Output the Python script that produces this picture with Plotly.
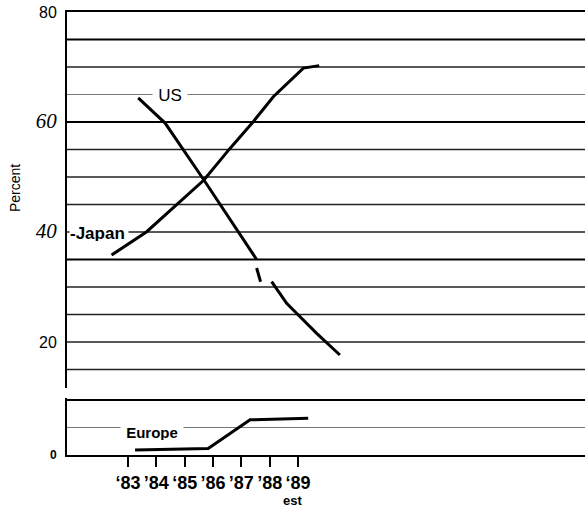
import plotly.graph_objects as go

# ---------------- data ----------------
YEARS = [1983, 1984, 1985, 1986, 1987, 1988, 1989]
YEAR_LABELS = ["<b>‘83</b>", "<b>’84</b>", "<b>‘85</b>", "<b>’86</b>",
               "<b>’87</b>", "<b>’88</b>", "<b>‘89</b>"]
EST_LABEL = "est"

us_year = [1983.36, 1984.31, 1985.68, 1987.54, None, 1987.54, 1987.68, None,
           1988.07, 1988.60, 1988.95, 1989.66, 1990.48]
us_pct = [64.4, 59.8, 49.45, 35.0, None, 33.45, 30.96, None,
          30.96, 27.04, 25.22, 21.58, 17.64]

japan_year = [1982.42, 1983.66, 1985.68, 1986.60, 1987.42, 1988.13, 1989.19, 1989.75]
japan_pct = [35.8, 40.05, 49.45, 55.2, 60.05, 64.6, 69.8, 70.25]

europe_year = [1983.25, 1985.83, 1987.31, 1989.36]
europe_pct = [0.9, 1.2, 6.4, 6.7]

UPPER_GRID = [15, 20, 25, 30, 35, 40, 45, 50, 55, 60, 65, 70, 75]   # 80 is the top frame line
LOWER_GRID = [5, 10]
BOLD_GRID = [75, 60, 35, 10]
LIGHT_GRID = [65, 5]
Y_MAX = 80

UPPER_TICKS = [20, 40, 60, 80]
UPPER_TICKTEXT = [
    "20",
    "<span style='font-family:Liberation Serif;font-style:italic;font-size:21px'>40</span>",
    "<span style='font-family:Liberation Serif;font-style:italic;font-size:21px'>60</span>",
    "80",
]

# ---------------- layout geometry (window pixels) ----------------
W, H = 585, 507
PLOT_L, PLOT_T, PLOT_B = 67, 12, 455
ML, MT, MB, MR = PLOT_L, PLOT_T, H - PLOT_B, 0
PLOT_H = PLOT_B - PLOT_T
PX = 5.5              # pixels per percentage point
UP_BOT_PX = 388       # bottom of upper panel
LOW_TOP_PX = 398      # top of lower panel
X0_PX, XSTEP = 128, 28.33  # pixel of '83 tick, pixels per year

up_top = Y_MAX
up_bot = Y_MAX - (UP_BOT_PX - PLOT_T) / PX
low_top = (PLOT_B - LOW_TOP_PX) / PX
x_lo = 1983 - (X0_PX - PLOT_L) / XSTEP
x_hi = 1983 + (W - X0_PX) / XSTEP

FONT = "Liberation Sans Narrow, Liberation Sans, Arial, sans-serif"
SANS = "Liberation Sans, Arial, sans-serif"

fig = go.Figure()
fig.add_trace(go.Scatter(x=us_year, y=us_pct, mode="lines", connectgaps=False,
                         line=dict(color="black", width=3), xaxis="x", yaxis="y",
                         showlegend=False, hoverinfo="skip"))
fig.add_trace(go.Scatter(x=japan_year, y=japan_pct, mode="lines",
                         line=dict(color="black", width=3), xaxis="x", yaxis="y",
                         showlegend=False, hoverinfo="skip"))
fig.add_trace(go.Scatter(x=europe_year, y=europe_pct, mode="lines",
                         line=dict(color="black", width=3), xaxis="x2", yaxis="y2",
                         showlegend=False, hoverinfo="skip"))

shapes = []
def grid(level, yref):
    if level in BOLD_GRID:
        c, w = "black", 2
    elif level in LIGHT_GRID:
        c, w = "#777777", 1
    else:
        c, w = "#222222", 1.4
    return dict(type="line", xref="x domain", x0=0, x1=1, yref=yref,
                y0=level, y1=level, line=dict(color=c, width=w), layer="below")

for g in UPPER_GRID:
    shapes.append(grid(g, "y"))
for g in LOWER_GRID:
    shapes.append(grid(g, "y2"))

annotations = [
    dict(text="US", x=1984.48, y=65, xref="x", yref="y", showarrow=False,
         font=dict(family=FONT, size=17, color="black"), bgcolor="white",
         width=34, height=14, borderpad=0),
    dict(text="<b>-Japan</b>", x=x_lo + 0.06, y=40, xref="x", yref="y",
         showarrow=False, xanchor="left", yanchor="middle", align="left",
         font=dict(family=FONT, size=17, color="black"), bgcolor="white",
         width=58, height=15, borderpad=0, yshift=-1),
    dict(text="<b>Europe</b>", x=1983.85, y=4.2, xref="x2", yref="y2",
         showarrow=False, font=dict(family=FONT, size=15, color="black"),
         bgcolor="white", width=62, height=16, borderpad=0),
    dict(text="<b>" + EST_LABEL + "</b>", x=YEARS[-1] - 0.18, xref="x2",
         y=0, yref="paper", yshift=-45, yanchor="middle", showarrow=False,
         font=dict(family=FONT, size=13, color="black")),
    dict(text="Percent", x=0, xref="paper", xshift=-52, xanchor="center",
         y=(PLOT_B - 188) / PLOT_H, yref="paper", yanchor="middle",
         textangle=-90, showarrow=False,
         font=dict(family=SANS, size=14, color="black")),
]

fig.update_layout(
    width=W, height=H,
    margin=dict(l=ML, r=MR, t=MT, b=MB, autoexpand=False),
    paper_bgcolor="white", plot_bgcolor="white",
    shapes=shapes, annotations=annotations,
    xaxis=dict(domain=[0, 1], range=[x_lo, x_hi], anchor="y", matches="x2",
               side="top", showticklabels=False, ticks="",
               showgrid=False, zeroline=False,
               showline=True, linecolor="black", linewidth=2,
               automargin=False),
    yaxis=dict(domain=[(PLOT_B - UP_BOT_PX) / PLOT_H, 1], range=[up_bot, up_top],
               anchor="x", showgrid=False, zeroline=False, automargin=False,
               showline=True, linecolor="black", linewidth=2,
               tickvals=UPPER_TICKS, ticktext=UPPER_TICKTEXT, ticks="",
               ticklabelstandoff=5, ticklabeloverflow="allow",
               tickfont=dict(family=SANS, size=16, color="black")),
    xaxis2=dict(domain=[0, 1], range=[x_lo, x_hi], anchor="y2",
                showgrid=False, zeroline=False, automargin=False,
                showline=True, linecolor="black", linewidth=2,
                tickvals=YEARS, ticktext=YEAR_LABELS, ticks="outside",
                ticklen=10, tickwidth=1.5, tickcolor="black",
                tickfont=dict(family=FONT, size=18, color="black")),
    yaxis2=dict(domain=[0, (PLOT_B - LOW_TOP_PX) / PLOT_H], range=[0, low_top],
                anchor="x2", showgrid=False, zeroline=False, automargin=False,
                showline=True, linecolor="black", linewidth=2,
                tickvals=[0], ticktext=["<b>0</b>"], ticks="",
                ticklabelstandoff=6,
                tickfont=dict(family=SANS, size=12, color="black")),
)

fig.write_html(
    "out.html",
    config={"displayModeBar": False},
    post_script="document.body.style.margin='0px';"
                "document.documentElement.style.overflow='hidden';",
)
